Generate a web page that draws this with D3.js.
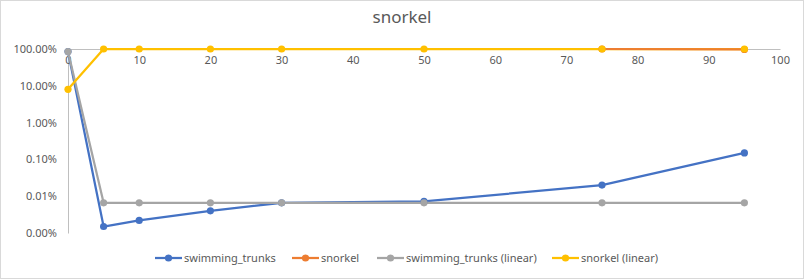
<!DOCTYPE html>
<html>
<head>
<meta charset="utf-8">
<script src="https://cdn.jsdelivr.net/npm/d3@7"></script>
<style>
  body { margin: 0; background: #fff; }
  svg text { font-family: "Noto Sans", "Liberation Sans", sans-serif; fill: #595959; }
</style>
</head>
<body>
<div id="chart"></div>
<script>
// Data
var xValues = [0, 5, 10, 20, 30, 50, 75, 95];
var swimmingTrunks = [0.85, 0.000015, 0.000022, 0.00004, 0.000066, 0.000072, 0.0002, 0.0015];
var snorkel = [0, 0, 0, 0, 0, 0, 1, 0.97];
var swimmingTrunksLinear = [0.85, 0.000066, 0.000066, 0.000066, 0.000066, 0.000066, 0.000066, 0.000066];
var snorkelLinear = [0.08, 1, 1, 1, 1, 1, 1, 1];
var xTicks = [0, 10, 20, 30, 40, 50, 60, 70, 80, 90, 100];
var yTicks = [1, 0.1, 0.01, 0.001, 0.0001, 0.00001];

var seriesList = [
    { name: "swimming_trunks", values: swimmingTrunks, color: "#4472c4" },
    { name: "snorkel", values: snorkel, color: "#ed7d31" },
    { name: "swimming_trunks (linear)", values: swimmingTrunksLinear, color: "#a5a5a5" },
    { name: "snorkel (linear)", values: snorkelLinear, color: "#ffc000" }
];

function createChart() {
    var width = 804, height = 279;
    var margin = { top: 49, right: 24, bottom: 46, left: 68 };
    var plotW = width - margin.left - margin.right;
    var plotH = height - margin.top - margin.bottom;

    var svg = d3.select("#chart").append("svg")
        .attr("width", width)
        .attr("height", height);

    svg.append("rect")
        .attr("x", 0.5).attr("y", 0.5)
        .attr("width", width - 1).attr("height", height - 1)
        .attr("fill", "#fff").attr("stroke", "#d9d9d9");

    svg.append("text")
        .attr("x", width / 2).attr("y", 23)
        .attr("text-anchor", "middle")
        .style("font-size", "17px")
        .text("snorkel");

    var g = svg.append("g")
        .attr("transform", "translate(" + margin.left + "," + margin.top + ")");

    var xScale = d3.scaleLinear().domain([0, 100]).range([0, plotW]);
    var yScale = d3.scaleLog().domain([0.00001, 1]).range([plotH, 0]);

    // y axis
    var yAxis = d3.axisLeft(yScale)
        .tickValues(yTicks)
        .tickSize(0)
        .tickPadding(11)
        .tickFormat(d3.format(".2%"));
    var yg = g.append("g").call(yAxis);
    yg.select(".domain").attr("stroke", "#bfbfbf");
    yg.selectAll("text").style("font-size", "11px").attr("fill", "#595959");

    // x axis crosses at 100%
    var xAxis = d3.axisBottom(xScale)
        .tickValues(xTicks)
        .tickSize(0)
        .tickPadding(7);
    var xg = g.append("g").attr("transform", "translate(0," + yScale(1) + ")").call(xAxis);
    xg.select(".domain").attr("stroke", "#bfbfbf");
    xg.selectAll("text").style("font-size", "11px").attr("fill", "#595959");

    var line = d3.line()
        .defined(function (d) { return d.y > 0; })
        .x(function (d) { return xScale(d.x); })
        .y(function (d) { return yScale(d.y); });

    function points(s) {
        return xValues.map(function (x, i) { return { x: x, y: s.values[i] }; });
    }

    // lines: yellow under orange so the orange 75-95 segment shows
    var lineOrder = [0, 2, 3, 1];
    lineOrder.forEach(function (k) {
        var s = seriesList[k];
        g.append("path")
            .datum(points(s))
            .attr("fill", "none")
            .attr("stroke", s.color)
            .attr("stroke-width", 2.25)
            .attr("stroke-linejoin", "round")
            .attr("d", line);
    });

    // markers
    seriesList.forEach(function (s) {
        g.selectAll(null)
            .data(points(s).filter(function (d) { return d.y > 0; }))
            .enter().append("circle")
            .attr("cx", function (d) { return xScale(d.x); })
            .attr("cy", function (d) { return yScale(d.y); })
            .attr("r", 3.6)
            .attr("fill", s.color);
    });

    // legend
    var legendX = [155, 292, 377, 552];
    var legend = svg.append("g").attr("transform", "translate(0,258)");
    seriesList.forEach(function (s, i) {
        var lg = legend.append("g").attr("transform", "translate(" + legendX[i] + ",0)");
        lg.append("line").attr("x1", 0).attr("x2", 27).attr("y1", 0).attr("y2", 0)
            .attr("stroke", s.color).attr("stroke-width", 2.25);
        lg.append("circle").attr("cx", 13.5).attr("cy", 0).attr("r", 3.6).attr("fill", s.color);
        lg.append("text").attr("x", 29).attr("y", 4)
            .style("font-size", "11px")
            .text(s.name);
    });
}

createChart();
</script>
</body>
</html>
